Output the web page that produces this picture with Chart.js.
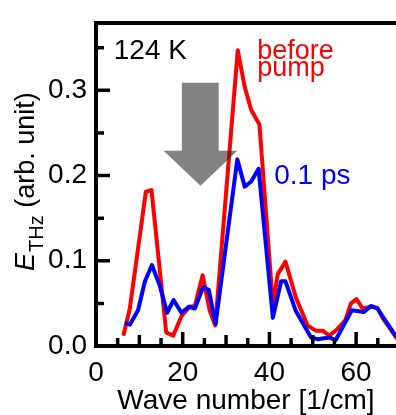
<!DOCTYPE html>
<html>
<head>
<meta charset="utf-8">
<script src="https://cdn.jsdelivr.net/npm/chart.js@4.4.0/dist/chart.umd.min.js"></script>
<style>
  html, body { margin: 0; padding: 0; background: #ffffff; }
  #wrap { width: 396px; height: 415px; }
</style>
</head>
<body>
<div id="wrap"><canvas id="thzChart"></canvas></div>
<script>
// Data (wave number in 1/cm, E_THz in arb. unit)
const beforeX = [6.3, 7.8, 11.5, 12.8, 16.2, 17.8, 19.7, 21.6, 22.8, 24.6, 26.2, 27.5, 32.7, 34.3, 35.8, 37.7, 40.8, 41.9, 43.7, 46.1, 48.8, 50.7, 52.3, 53.8, 55.7, 57.5, 58.8, 60.1, 61.5, 63.4, 64.9, 66.1, 68.7, 69.5];
const beforeY = [0.012, 0.044, 0.181, 0.183, 0.016, 0.012, 0.035, 0.046, 0.047, 0.083, 0.042, 0.024, 0.347, 0.304, 0.277, 0.260, 0.048, 0.084, 0.099, 0.057, 0.024, 0.018, 0.018, 0.012, 0.020, 0.030, 0.050, 0.055, 0.044, 0.046, 0.045, 0.033, 0.014, 0.008];
const afterX = [6.7, 7.8, 9.7, 11.3, 12.9, 14.7, 16.4, 17.9, 19.7, 21.4, 22.8, 24.7, 26.0, 27.6, 32.6, 34.3, 35.8, 37.5, 40.8, 42.7, 43.7, 46.1, 49.6, 51.1, 53.8, 55.3, 59.0, 61.8, 63.4, 64.9, 68.7, 69.5];
const afterY = [0.027, 0.025, 0.042, 0.076, 0.095, 0.071, 0.039, 0.054, 0.039, 0.046, 0.044, 0.069, 0.066, 0.026, 0.219, 0.187, 0.193, 0.208, 0.033, 0.076, 0.076, 0.041, 0.010, 0.008, 0.010, 0.007, 0.042, 0.040, 0.047, 0.044, 0.015, 0.010];

const xTicks = [0, 20, 40, 60];
const yTicks = [0.0, 0.1, 0.2, 0.3];

const FONT = "'Liberation Sans', Arial, sans-serif";

function toPoints(xs, ys) {
  return xs.map((x, i) => ({ x: x, y: ys[i] }));
}

// Frame, inward ticks, arrow and text labels
const decorPlugin = {
  id: "decor",
  afterDatasetsDraw(chart) {
    const ctx = chart.ctx;
    const xs = chart.scales.x;
    const ys = chart.scales.y;
    const area = chart.chartArea;

    // big gray arrow (semi transparent, drawn over the lines)
    ctx.save();
    ctx.fillStyle = "rgba(40, 40, 40, 0.58)";
    ctx.beginPath();
    ctx.moveTo(xs.getPixelForValue(19.8), ys.getPixelForValue(0.309));
    ctx.lineTo(xs.getPixelForValue(28.3), ys.getPixelForValue(0.309));
    ctx.lineTo(xs.getPixelForValue(28.3), ys.getPixelForValue(0.229));
    ctx.lineTo(xs.getPixelForValue(32.6), ys.getPixelForValue(0.229));
    ctx.lineTo(xs.getPixelForValue(24.1), ys.getPixelForValue(0.188));
    ctx.lineTo(xs.getPixelForValue(15.6), ys.getPixelForValue(0.229));
    ctx.lineTo(xs.getPixelForValue(19.8), ys.getPixelForValue(0.229));
    ctx.closePath();
    ctx.fill();
    ctx.restore();

    // frame
    ctx.save();
    ctx.strokeStyle = "#000000";
    ctx.lineWidth = 4;
    ctx.strokeRect(area.left, area.top, area.right - area.left + 10, area.bottom - area.top);

    // ticks pointing inside
    ctx.lineWidth = 3.5;
    ctx.beginPath();
    for (let v = 5; v < xs.max; v += 5) {
      const px = xs.getPixelForValue(v);
      const len = v % 20 === 0 ? 14 : (v % 10 === 0 ? 11 : 8);
      ctx.moveTo(px, area.bottom);
      ctx.lineTo(px, area.bottom - len);
    }
    for (let k = 1; k * 0.05 < ys.max; k++) {
      const py = ys.getPixelForValue(k * 0.05);
      const len = k % 2 === 0 ? 14 : 8;
      ctx.moveTo(area.left, py);
      ctx.lineTo(area.left + len, py);
    }
    ctx.stroke();

    // text labels
    ctx.textBaseline = "alphabetic";
    ctx.textAlign = "left";
    ctx.font = "28px " + FONT;
    ctx.fillStyle = "#000000";
    ctx.fillText("124 K", xs.getPixelForValue(4.1), ys.getPixelForValue(0.337));
    ctx.fillStyle = "#ff0000";
    ctx.font = "27px " + FONT;
    ctx.fillText("before", xs.getPixelForValue(37.2), ys.getPixelForValue(0.337));
    ctx.fillText("pump", xs.getPixelForValue(37.2), ys.getPixelForValue(0.317));
    ctx.fillStyle = "#0000ff";
    ctx.font = "28px " + FONT;
    ctx.fillText("0.1 ps", xs.getPixelForValue(41.1), ys.getPixelForValue(0.190));

    // y axis title: E_THz (arb. unit), rotated
    ctx.fillStyle = "#000000";
    ctx.translate(34, 271);
    ctx.rotate(-Math.PI / 2);
    let cx = 0;
    ctx.font = "italic 27px " + FONT;
    ctx.fillText("E", cx, 0);
    cx += ctx.measureText("E").width + 1;
    ctx.font = "20px " + FONT;
    ctx.fillText("THz", cx, 9);
    cx += ctx.measureText("THz").width;
    ctx.font = "27px " + FONT;
    ctx.fillText(" (arb. unit)", cx, 0);
    ctx.restore();
  }
};

const chart = new Chart(document.getElementById("thzChart").getContext("2d"), {
  type: "scatter",
  data: {
    datasets: [
      {
        label: "0.1 ps",
        data: toPoints(afterX, afterY),
        showLine: true,
        borderColor: "#0000ff",
        borderWidth: 4,
        pointRadius: 0,
        tension: 0,
        borderJoinStyle: "round",
        order: 1,
      },
      {
        label: "before pump",
        data: toPoints(beforeX, beforeY),
        showLine: true,
        borderColor: "#ff0000",
        borderWidth: 4,
        pointRadius: 0,
        tension: 0,
        borderJoinStyle: "round",
        order: 2,
      },
    ],
  },
  options: {
    responsive: true,
    maintainAspectRatio: false,
    animation: false,
    layout: { padding: { top: 10, right: 0, left: 0, bottom: 0 } },
    plugins: {
      legend: { display: false },
      tooltip: { enabled: false },
    },
    scales: {
      x: {
        type: "linear",
        min: 0,
        max: 69.2,
        afterBuildTicks: (scale) => { scale.ticks = xTicks.map((v) => ({ value: v })); },
        afterFit: (scale) => { scale.height = 69; },
        grid: { display: false, drawTicks: false },
        border: { display: false },
        ticks: {
          padding: 13,
          color: "#000000",
          font: { family: FONT, size: 28, lineHeight: 1 },
          callback: (v) => String(v),
        },
        title: {
          display: true,
          text: "Wave number [1/cm]",
          color: "#000000",
          padding: { top: 0, bottom: 0 },
          font: { family: FONT, size: 28, lineHeight: 1 },
        },
      },
      y: {
        min: 0,
        max: 0.379,
        afterBuildTicks: (scale) => { scale.ticks = yTicks.map((v) => ({ value: v })); },
        afterFit: (scale) => { scale.width = 96; },
        grid: { display: false, drawTicks: false },
        border: { display: false },
        ticks: {
          padding: 9,
          color: "#000000",
          font: { family: FONT, size: 28, lineHeight: 1 },
          callback: (v) => v.toFixed(1),
        },
      },
    },
  },
  plugins: [decorPlugin],
});
</script>
</body>
</html>
